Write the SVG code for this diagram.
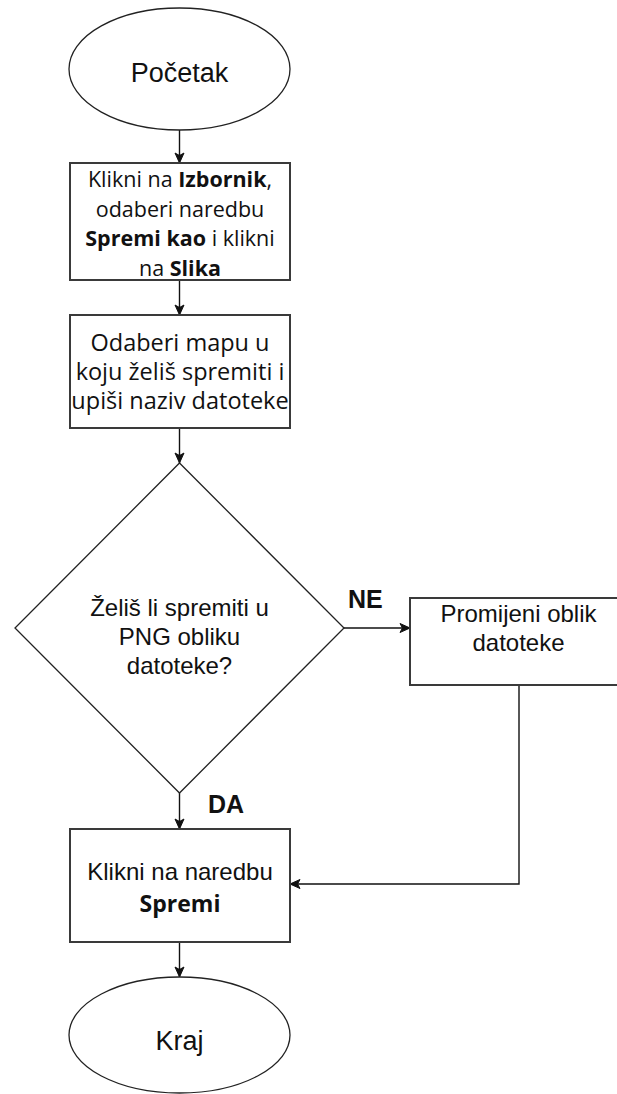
<svg xmlns="http://www.w3.org/2000/svg" width="617" height="1094" viewBox="0 0 617 1094">
  <style>
    .term { fill: #ffffff; stroke: #222222; stroke-width: 1.3; }
    .box { fill: #ffffff; stroke: #3a3a3a; stroke-width: 2; }
    .dec { fill: #ffffff; stroke: #222222; stroke-width: 1.3; }
    .edge { fill: none; stroke: #111111; stroke-width: 1.4; }
    .arial { font-family: "Liberation Sans", Arial, sans-serif; fill: #111111; text-anchor: middle; }
    .segoe { font-family: "Open Sans", "Noto Sans", sans-serif; fill: #111111; text-anchor: middle; }
    .b { font-weight: bold; }
    .lbl { font-family: "Liberation Sans", Arial, sans-serif; font-weight: bold; font-size: 25px; fill: #111111; }
  </style>
  <defs>
    <marker id="arrow" markerUnits="userSpaceOnUse" markerWidth="12" markerHeight="12" viewBox="0 0 12 12" refX="11" refY="6" orient="auto">
      <path d="M1,1.5 L11,6 L1,10.5 L3.5,6 z" fill="#111111" stroke="#111111" stroke-width="1"/>
    </marker>
  </defs>

  <rect width="617" height="1094" fill="#ffffff"/>

  <!-- connectors -->
  <g id="connectors">
    <path class="edge" d="M179.5,130 L179.5,163" marker-end="url(#arrow)"/>
    <path class="edge" d="M179.5,280 L179.5,315" marker-end="url(#arrow)"/>
    <path class="edge" d="M179.5,428 L179.5,463" marker-end="url(#arrow)"/>
    <path class="edge" d="M344,628 L410,628" marker-end="url(#arrow)"/>
    <path class="edge" d="M179.5,793 L179.5,829" marker-end="url(#arrow)"/>
    <path class="edge" d="M519,685 L519,884 L290,884" marker-end="url(#arrow)"/>
    <path class="edge" d="M179.5,942 L179.5,977" marker-end="url(#arrow)"/>
    <text class="lbl" x="348" y="608">NE</text>
    <text class="lbl" x="208" y="813">DA</text>
  </g>

  <!-- start -->
  <g id="start">
    <ellipse class="term" cx="179.5" cy="69" rx="110.5" ry="61"/>
    <text class="arial" x="179.5" y="82" font-size="27">Početak</text>
  </g>

  <!-- open menu -->
  <g id="open-menu">
    <rect class="box" x="70" y="163" width="220" height="117"/>
    <text class="segoe" font-size="21.5" x="180" y="187"><tspan>Klikni na </tspan><tspan class="b">Izbornik</tspan><tspan>,</tspan></text>
    <text class="segoe" font-size="21.5" x="180" y="216.5">odaberi naredbu</text>
    <text class="segoe" font-size="21.5" x="180" y="246"><tspan class="b">Spremi kao</tspan><tspan> i klikni</tspan></text>
    <text class="segoe" font-size="21.5" x="180" y="275.5"><tspan>na </tspan><tspan class="b">Slika</tspan></text>
  </g>

  <!-- choose folder -->
  <g id="choose-folder">
    <rect class="box" x="70" y="315" width="220" height="113"/>
    <text class="segoe" font-size="23.5" x="180" y="351">Odaberi mapu u</text>
    <text class="segoe" font-size="23.5" x="180" y="380">koju želiš spremiti i</text>
    <text class="segoe" font-size="23.5" x="180" y="409">upiši naziv datoteke</text>
  </g>

  <!-- decision -->
  <g id="decision">
    <polygon class="dec" points="179.5,463 344,628 179.5,793 15,628"/>
    <text class="arial" font-size="24" x="179.5" y="616">Želiš li spremiti u</text>
    <text class="arial" font-size="24" x="179.5" y="645">PNG obliku</text>
    <text class="arial" font-size="24" x="179.5" y="674">datoteke?</text>
  </g>

  <!-- change format -->
  <g id="change-format">
    <rect class="box" x="410" y="598" width="218" height="87"/>
    <text class="arial" font-size="24" x="518.5" y="622">Promijeni oblik</text>
    <text class="arial" font-size="24" x="518.5" y="651">datoteke</text>
  </g>

  <!-- save -->
  <g id="save">
    <rect class="box" x="70" y="829" width="220" height="113"/>
    <text class="arial" x="180" y="880" font-size="24">Klikni na naredbu</text>
    <text class="segoe b" x="180" y="912" font-size="23">Spremi</text>
  </g>

  <!-- end -->
  <g id="end">
    <ellipse class="term" cx="179.5" cy="1035" rx="110.5" ry="58"/>
    <text class="arial" x="179.5" y="1050" font-size="27">Kraj</text>
  </g>
</svg>
